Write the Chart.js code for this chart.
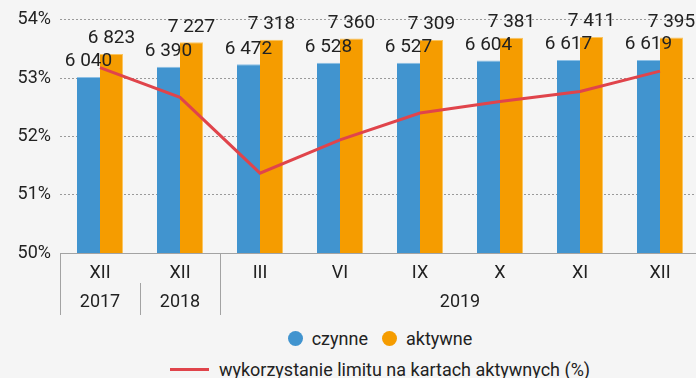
<!DOCTYPE html>
<html lang="pl">
<head>
<meta charset="utf-8">
<script src="https://cdn.jsdelivr.net/npm/chart.js@4.4.1/dist/chart.umd.min.js"></script>
<style>
  html, body { margin: 0; padding: 0; background: #f5f5f5; overflow: hidden; }
  body { width: 696px; height: 378px; position: relative; font-family: Roboto, sans-serif; color: #222; }
  #wrap { position: absolute; left: 0; top: 0; width: 700px; height: 320px; }
  #legend { position: absolute; left: 60px; width: 640px; top: 323px; font-size: 18px; text-align: center; }
  .row { display: flex; justify-content: center; align-items: center; height: 31px; }
  .item { display: flex; align-items: center; margin: 0 7px; }
  .dot { width: 15px; height: 15px; border-radius: 50%; margin-right: 9px; }
  .ln { width: 39px; height: 3px; margin-right: 10px; }
</style>
</head>
<body>
<div id="wrap"><canvas id="cardsChart"></canvas></div>
<div id="legend">
  <div class="row">
    <span class="item"><span class="dot" style="background:#4194cf"></span>czynne</span>
    <span class="item"><span class="dot" style="background:#f59c00"></span>aktywne</span>
  </div>
  <div class="row">
    <span class="item"><span class="ln" style="background:#e0444b"></span>wykorzystanie limitu na kartach aktywnych (%)</span>
  </div>
</div>
<script>
const months = ["XII", "XII", "III", "VI", "IX", "X", "XI", "XII"];
const years = [["2017", 0, 0], ["2018", 1, 1], ["2019", 2, 7]];
const czynne = [6040, 6390, 6472, 6528, 6527, 6604, 6617, 6619];
const aktywne = [6823, 7227, 7318, 7360, 7309, 7381, 7411, 7395];
const limitUsage = [53.18, 52.67, 51.37, 51.94, 52.40, 52.60, 52.77, 53.12];
const pctTicks = [50, 51, 52, 53, 54];

const fontFamily = "Roboto, sans-serif";
const textColor = "#222";
const lineGray = "#a3a3a3";

const fmt = (v) => String(v).replace(/\B(?=(\d{3})+(?!\d))/g, " ");

// numbers over the bars
const barLabels = {
    id: "barLabels",
    afterDatasetsDraw(chart) {
        const ctx = chart.ctx;
        ctx.save();
        ctx.font = "19px " + fontFamily;
        ctx.fillStyle = textColor;
        ctx.textAlign = "center";
        ctx.textBaseline = "bottom";
        chart.data.datasets.forEach((ds, i) => {
            if (ds.type !== "bar") return;
            chart.getDatasetMeta(i).data.forEach((bar, j) => {
                ctx.fillText(fmt(ds.data[j]), bar.x, bar.y - 6);
            });
        });
        ctx.restore();
    },
};

// second row of the x axis: years and the separators
const yearRow = {
    id: "yearRow",
    afterDraw(chart) {
        const ctx = chart.ctx;
        const x = chart.scales.x;
        const half = (x.getPixelForValue(1) - x.getPixelForValue(0)) / 2;
        const top = x.top;
        const bottom = x.bottom;
        const mid = top + 30;
        ctx.save();
        ctx.strokeStyle = lineGray;
        ctx.lineWidth = 1;
        ctx.font = "18px " + fontFamily;
        ctx.fillStyle = textColor;
        ctx.textAlign = "center";
        ctx.textBaseline = "middle";
        years.forEach(([label, from, to], k) => {
            const left = x.getPixelForValue(from) - half;
            const right = x.getPixelForValue(to) + half;
            ctx.fillText(label, (left + right) / 2, bottom - 13);
            // the first and the last group get a full-height line
            const lx = Math.round(left) + 0.5;
            ctx.beginPath();
            ctx.moveTo(lx, k === 0 || k === years.length - 1 ? top : mid);
            ctx.lineTo(lx, bottom);
            ctx.stroke();
        });
        ctx.restore();
    },
};

const cardsChart = new Chart(document.getElementById("cardsChart"), {
    data: {
        labels: months,
        datasets: [
            {
                type: "line",
                label: "wykorzystanie limitu na kartach aktywnych (%)",
                data: limitUsage,
                yAxisID: "y",
                borderColor: "#e0444b",
                borderWidth: 3,
                pointRadius: 0,
                tension: 0,
                order: 0,
            },
            {
                type: "bar",
                label: "czynne",
                data: czynne,
                yAxisID: "yb",
                backgroundColor: "#4194cf",
                borderColor: "#8cc0e6",
                borderWidth: { top: 1 },
                categoryPercentage: 0.575,
                barPercentage: 1,
                order: 1,
            },
            {
                type: "bar",
                label: "aktywne",
                data: aktywne,
                yAxisID: "yb",
                backgroundColor: "#f59c00",
                borderColor: "#fbc45e",
                borderWidth: { top: 1, right: 1 },
                categoryPercentage: 0.575,
                barPercentage: 1,
                order: 1,
            },
        ],
    },
    options: {
        responsive: true,
        maintainAspectRatio: false,
        animation: false,
        layout: { padding: { top: 4, right: 0, left: 0, bottom: 5 } },
        plugins: { legend: { display: false }, tooltip: { enabled: false } },
        scales: {
            x: {
                offset: true,
                grid: { display: false, drawTicks: false },
                border: { display: true, color: lineGray, width: 1 },
                ticks: {
                    color: textColor,
                    font: { family: fontFamily, size: 18 },
                    padding: 10,
                    maxRotation: 0,
                },
                afterFit(scale) {
                    scale.height = 62;
                },
            },
            y: {
                position: "left",
                min: 50,
                max: 54,
                afterBuildTicks(scale) {
                    scale.ticks = pctTicks.map((v) => ({ value: v }));
                },
                ticks: {
                    color: textColor,
                    font: { family: fontFamily, size: 18 },
                    padding: 9,
                    callback: (v) => v + "%",
                },
                grid: { color: "#9a9a9a", drawTicks: false, lineWidth: 1 },
                border: { display: false, dash: [2, 2] },
                afterFit(scale) {
                    scale.width = 60;
                },
            },
            yb: {
                display: false,
                min: 0,
                max: 8000,
            },
        },
    },
    plugins: [barLabels, yearRow],
});
</script>
</body>
</html>
